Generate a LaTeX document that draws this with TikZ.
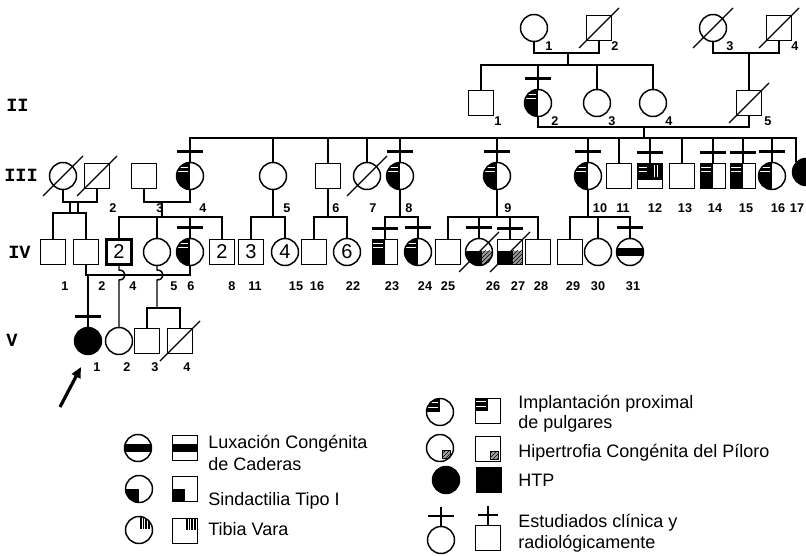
\documentclass[tikz,border=0pt]{standalone}
\usepackage{fontspec}
\setmainfont{Liberation Sans}
\newfontfamily\genfont{Liberation Mono}
\usetikzlibrary{calc,arrows.meta,patterns}
\newcommand\ppc{path picture bounding box.center}
\newcommand\pq[2]{([shift={(#1pt,#2pt)}]\ppc)}
\newcommand\mkstud[1]{\draw[line width=2.2pt] ($(#1.north)+(-13,-10)$) -- ($(#1.north)+(13,-10)$);}
\newcommand\mkdead[1]{\draw[line width=0.9pt] ($(#1.center)+(-20,20)$) -- ($(#1.center)+(20,-20)$);}
\tikzset{
  implL/.style={path picture={
    \fill[black] \pq{-15}{-15} rectangle \pq{0}{15};
    \draw[white,line width=0.9pt] \pq{-9}{6.5} -- \pq{-1.5}{6.5};
    \draw[white,line width=0.9pt] \pq{-9}{3.5} -- \pq{-1.5}{3.5};}},
  impl/.style={path picture={
    \fill[black] \pq{-15}{0} rectangle \pq{0}{15};
    \draw[white,line width=0.9pt] \pq{-10}{7} -- \pq{-1.5}{7};
    \draw[white,line width=0.9pt] \pq{-10}{3.5} -- \pq{-1.5}{3.5};}},
  topB/.style={path picture={
    \fill[black] \pq{-15}{-3} rectangle \pq{15}{15};
    \draw[white,line width=0.9pt] \pq{-8}{6.5} -- \pq{-2}{6.5};
    \draw[white,line width=0.9pt] \pq{-8}{3.5} -- \pq{-2}{3.5};
    \draw[white,line width=0.6pt] \pq{3}{-1} -- \pq{3}{8};
    \draw[white,line width=0.6pt] \pq{5.5}{-1} -- \pq{5.5}{8};}},
  lux/.style={path picture={\fill[black] \pq{-15}{-2.8} rectangle \pq{15}{2.8};}},
  sind/.style={path picture={\fill[black] \pq{-15}{-15} rectangle \pq{0}{0};}},
  tib/.style={path picture={
    \fill[black] \pq{0.5}{0.5} rectangle \pq{8.5}{15};
    \foreach \u in {2.3,4.3,6.3} \draw[white,line width=0.7pt] \pq{\u}{0} -- \pq{\u}{15};}},
  hip/.style={path picture={
    \fill[black!35] \pq{1.5}{-8} rectangle \pq{8}{-1.5};
    \fill[pattern=north east lines] \pq{1.5}{-8} rectangle \pq{8}{-1.5};
    \draw[line width=0.7pt] \pq{1.5}{-8} rectangle \pq{8}{-1.5};}},
  hipB/.style={path picture={
    \fill[black] \pq{-15}{-15} rectangle \pq{2}{1};
    \fill[black!40] \pq{2}{-15} rectangle \pq{15}{1};
    \fill[pattern=north east lines] \pq{2}{-15} rectangle \pq{15}{1};}},
}
\begin{document}
\begin{tikzpicture}[x=0.75pt,y=-0.75pt,
  every node/.style={inner sep=0pt},
  sq/.style={draw, rectangle, minimum size=18.75pt, line width=1.1pt},
  ci/.style={draw, circle, minimum size=20.25pt, line width=1.1pt},
  ln/.style={line width=1.1pt},
  num/.style={font=\bfseries\fontsize{9.5}{9.5}\selectfont},
  big/.style={font=\fontsize{15}{15}\selectfont},
  gen/.style={font=\genfont\bfseries\fontsize{14}{14}\selectfont, anchor=west},
  lg/.style={font=\fontsize{13.5}{13.5}\selectfont, anchor=base west}]
\useasboundingbox (0,0) rectangle (806,556);

% generation labels
\node[gen] (gII) at (6,105) {II};
\node[gen] (gIII) at (4,175) {III};
\node[gen] (gIV) at (8,252) {IV};
\node[gen] (gV) at (6,340) {V};

% generation I
\node[ci] (I1) at (534,28) {};
\node[sq] (I2) at (599,28) {};
\node[ci] (I3) at (713,28) {};
\node[sq] (I4) at (779,28) {};

% generation II
\node[sq] (II1) at (481,103) {};
\node[ci,implL] (II2) at (538,103) {};
\node[ci] (II3) at (597,103) {};
\node[ci] (II4) at (653,103) {};
\node[sq] (II5) at (749,103) {};

% generation III
\node[ci] (III1) at (63,176) {};
\node[sq] (III2) at (97,176) {};
\node[sq] (III3) at (144,176) {};
\node[ci,implL] (III4) at (190,176) {};
\node[ci] (III5) at (273,176) {};
\node[sq] (III6) at (328,176) {};
\node[ci] (III7) at (367,176) {};
\node[ci,implL] (III8) at (400,176) {};
\node[ci,implL] (III9) at (497,176) {};
\node[ci,implL] (III10) at (588,176) {};
\node[sq] (III11) at (619,176) {};
\node[sq,topB] (III12) at (650,176) {};
\node[sq] (III13) at (682,176) {};
\node[sq,implL] (III14) at (713,176) {};
\node[sq,implL] (III15) at (743,176) {};
\node[ci,implL] (III16) at (772,176) {};
\node[ci,fill=black] (III17) at (806,172) {};

% generation IV
\node[sq] (IV1) at (53,252) {};
\node[sq] (IV2) at (86,252) {};
\node[sq,big,line width=1.7pt] (IVa) at (119,252) {2};
\node[ci] (IV5) at (157,252) {};
\node[ci,implL] (IV6) at (190,252) {};
\node[sq,big,line width=1.4pt] (IVb) at (222,252) {2};
\node[sq,big] (IVc) at (251,252) {3};
\node[ci,big] (IVd) at (285,252) {4};
\node[sq] (IV16) at (314,252) {};
\node[ci,big] (IVe) at (347,252) {6};
\node[sq,implL] (IV23) at (385,252) {};
\node[ci,implL] (IV24) at (418,252) {};
\node[sq] (IV25) at (448,252) {};
\node[ci,hipB] (IV26) at (479,252) {};
\node[sq,hipB] (IV27) at (510,252) {};
\node[sq] (IV28) at (538,252) {};
\node[sq] (IV29) at (570,252) {};
\node[ci] (IV30) at (598,252) {};
\node[ci,lux] (IV31) at (630,252) {};

% generation V
\node[ci,fill=black] (V1) at (88,341) {};
\node[ci] (V2) at (119,341) {};
\node[sq] (V3) at (147,341) {};
\node[sq] (V4) at (180,341) {};

% deceased
\foreach \n in {I2,I3,I4,II5,III1,III2,III7,IV26,IV27,V4} {\mkdead{\n}}
% studied
\foreach \n in {II2,III4,III8,III9,III10,III12,III14,III15,III16,IV6,IV23,IV24,IV26,IV27,IV31,V1} {\mkstud{\n}}

% connectors I -> II
\coordinate (mI12) at (568,53);
\coordinate (sII) at (568,65);
\draw[ln] (I1.south) |- (mI12) -| (I2.south);
\draw[ln] (mI12) -- (sII);
\draw[ln] (II1.north) |- (sII) -| (II4.north);
\draw[ln] (II2.north) -- (II2.north |- sII);
\draw[ln] (II3.north) -- (II3.north |- sII);
\coordinate (mI34) at (749,53);
\draw[ln] (I3.south) |- (mI34) -| (I4.south);
\draw[ln] (mI34) -- (II5.north);

% II -> III
\coordinate (mII) at (644,127);
\coordinate (sIII) at (644,138);
\draw[ln] (II2.south) |- (mII) -| (II5.south);
\draw[ln] (mII) -- (sIII);
\draw[ln] (III4.north) |- (sIII);
\draw[ln] (sIII) -| (III17.north west);
\foreach \n in {III5,III6,III7,III8,III9,III10,III11,III12,III13,III14,III15,III16}
  {\draw[ln] (\n.north) -- (\n.north |- sIII);}

% III -> IV
\coordinate (mIII12) at (80,202);
\coordinate (dA) at (70,202);
\coordinate (dB) at (78,202);
\coordinate (sIV12) at (70,213);
\draw[ln] (III1.south) |- (mIII12) -| (III2.south);
\draw[ln] (dA) -- (dA |- sIV12);
\draw[ln] (dB) -- (dB |- sIV12);
\draw[ln] (IV1.north) |- (sIV12) -| (IV2.north);

\coordinate (mIII34) at (162,202);
\coordinate (sIVa) at (162,217);
\draw[ln] (III3.south) |- (mIII34) -| (III4.south);
\draw[ln] (mIII34) -- (sIVa);
\draw[ln] (IVa.north) |- (sIVa) -| (IVb.north);
\draw[ln] (IV5.north) -- (IV5.north |- sIVa);
\draw[ln] (IV6.north) -- (IV6.north |- sIVa);

\coordinate (sIVc) at (273,217);
\draw[ln] (III5.south) -- (sIVc);
\draw[ln] (IVc.north) |- (sIVc) -| (IVd.north);

\coordinate (sIVe) at (328,217);
\draw[ln] (III6.south) -- (sIVe);
\draw[ln] (IV16.north) |- (sIVe) -| (IVe.north);

\coordinate (sIVf) at (400,217);
\draw[ln] (III8.south) -- (sIVf);
\draw[ln] (IV23.north) |- (sIVf) -| (IV24.north);

\coordinate (sIVg) at (497,217);
\draw[ln] (III9.south) -- (sIVg);
\draw[ln] (IV25.north) |- (sIVg) -| (IV28.north);
\draw[ln] (IV26.north) -- (IV26.north |- sIVg);
\draw[ln] (IV27.north) -- (IV27.north |- sIVg);

\coordinate (sIVh) at (588,217);
\draw[ln] (III10.south) -- (sIVh);
\draw[ln] (IV29.north) |- (sIVh) -| (IV31.north);
\draw[ln] (IV30.north) -- (IV30.north |- sIVh);

% IV -> V
\coordinate (mIV) at (88,275);
\draw[ln] (IV2.south) |- (mIV) -| (IV6.south);
\draw[ln] (mIV) -- (V1.north);
\coordinate (hA1) at (119,270);
\coordinate (hA2) at (119,280);
\draw[ln] (IVa.south) -- (hA1) .. controls (127,270) and (127,280) .. (hA2) -- (V2.north);
\coordinate (hB1) at (157,270);
\coordinate (hB2) at (157,280);
\coordinate (sV) at (157,308);
\draw[ln] (IV5.south) -- (hB1) .. controls (165,270) and (165,280) .. (hB2) -- (sV);
\draw[ln] (V3.north) |- (sV) -| (V4.north);

% proband arrow
\coordinate (arA) at (60,407);
\coordinate (arB) at (81,367);
\draw[line width=2.4pt,-{Triangle[length=8pt,width=7pt]}] (arA) -- (arB);

% numbers
\foreach \t/\x/\y [count=\i] in {1/549/46,2/615/46,3/730/46,4/795/46,
  1/498/121,2/555/121,3/612/121,4/669/121,5/768/121,
  2/113/208,3/160/208,4/203/208,5/287/208,6/336/208,7/373/208,8/409/208,9/508/208,
  10/600/208,11/623/208,12/655/208,13/685/208,14/715/208,15/746/208,16/778/208,17/797/208,
  1/65/286,2/102/286,4/133/286,5/174/286,6/191/286,8/232/286,11/255/286,15/296/286,
  16/317/286,22/353/286,23/392/286,24/425/286,25/448/286,26/493/286,27/518/286,
  28/541/286,29/573/286,30/598/286,31/633/286,
  1/97/367,2/127/367,3/155/367,4/187/367}
  {\node[num] (lab\i) at (\x,\y) {\t};}

% legend left
\node[ci,lux] (L1c) at (138,448) {};
\node[sq,lux] (L1s) at (185,448) {};
\node[ci,sind] (L2c) at (139,489) {};
\node[sq,sind] (L2s) at (185,489) {};
\node[ci,tib] (L3c) at (139,530) {};
\node[sq,tib] (L3s) at (185,531) {};
\node[lg] (t1) at (208,448) {Luxación Congénita};
\node[lg] (t2) at (208,470) {de Caderas};
\node[lg] (t3) at (208,505) {Sindactilia Tipo I};
\node[lg] (t4) at (208,535) {Tibia Vara};

% legend right
\node[ci,impl] (R1c) at (440,412) {};
\node[sq,impl] (R1s) at (488,411) {};
\node[ci,hip] (R2c) at (440,448) {};
\node[sq,hip] (R2s) at (488,449) {};
\node[ci,fill=black] (R3c) at (446,480) {};
\node[sq,fill=black] (R3s) at (489,480) {};
\node[ci] (R4c) at (441,540) {};
\node[sq] (R4s) at (488,538) {};
\draw[ln] (R4c.north) -- ($(R4c.north)+(0,-19)$);
\draw[ln] ($(R4c.north)+(-13,-10)$) -- ($(R4c.north)+(13,-10)$);
\draw[ln] (R4s.north) -- ($(R4s.north)+(0,-19)$);
\draw[ln] ($(R4s.north)+(-10,-10)$) -- ($(R4s.north)+(10,-10)$);
\node[lg] (t5) at (518,408) {Implantación proximal};
\node[lg] (t6) at (518,428) {de pulgares};
\node[lg] (t7) at (518,457) {Hipertrofia Congénita del Píloro};
\node[lg] (t8) at (518,486) {HTP};
\node[lg] (t9) at (518,527) {Estudiados clínica y};
\node[lg] (t10) at (518,548) {radiológicamente};
\end{tikzpicture}
\end{document}
